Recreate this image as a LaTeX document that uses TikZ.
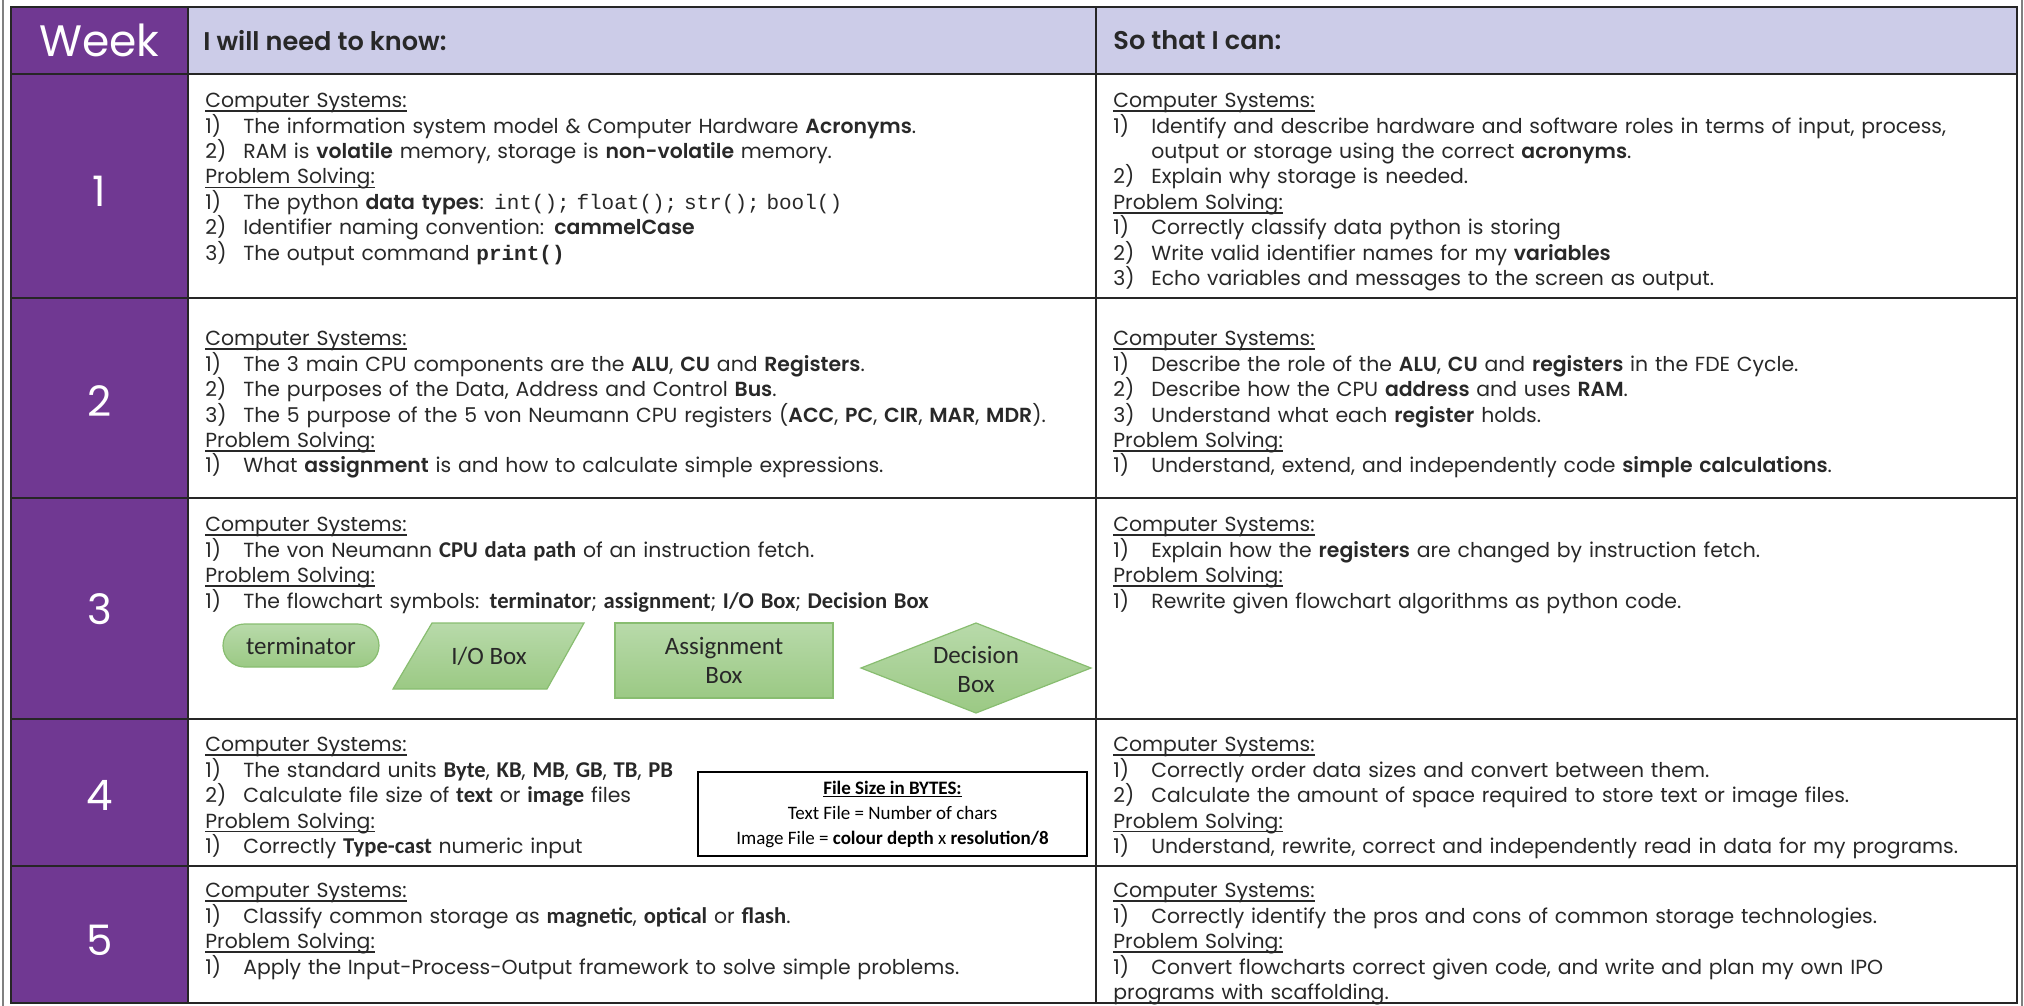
\documentclass[tikz,border=0pt]{standalone}
\usepackage{amsmath}
\usepackage{fontspec}
\setmainfont{Poppins}[BoldFont={Poppins SemiBold}]
\setmonofont{Liberation Mono}
\newfontfamily\calfont{Carlito}
\usetikzlibrary{shapes.geometric,shapes.misc}
\setlength\parskip{0pt}

\definecolor{wkpurple}{RGB}{112,56,146}
\definecolor{hdlav}{RGB}{204,204,232}
\definecolor{gridline}{RGB}{38,38,38}
\definecolor{ink}{RGB}{40,40,40}
\definecolor{gtop}{RGB}{184,218,170}
\definecolor{gbot}{RGB}{155,201,132}
\definecolor{gedge}{RGB}{136,189,112}

% topic heading, item with hanging number, Calibri bold word, code
\newcommand\topic[1]{\par\noindent\setbox0\hbox{#1}\rlap{\rule[-2.2pt]{\wd0}{0.9pt}}\box0}
\newcommand\itm[2]{\par\noindent\hangindent=19pt\hangafter=1\makebox[19pt][l]{#1)}#2}
\newcommand\cb[1]{{\calfont\bfseries\fontsize{11.3}{12.7}\selectfont #1}}
\newcommand\code[1]{{\ttfamily\fontsize{10.5}{12.7}\selectfont #1}}

\begin{document}
\begin{tikzpicture}[x=0.5pt,y=-0.5pt,
  cell/.style={anchor=north west,inner sep=0pt,text width=460pt,align=left,text=ink,font=\fontsize{10.2}{12.7}\selectfont},
  wknum/.style={text=white,font=\fontsize{21}{24}\selectfont},
  hdtext/.style={anchor=west,inner sep=0pt,text=ink,font=\bfseries\fontsize{12.8}{15}\selectfont},
  flow/.style={top color=gtop,bottom color=gbot,draw=gedge,line width=0.6pt},
  flowtxt/.style={font=\calfont\fontsize{12.5}{14.5}\selectfont,text=ink,align=center,inner sep=0pt}]
\useasboundingbox (0,0) rectangle (2024,1006);
\fill[wkpurple](11,7) rectangle (188,1003);
\fill[hdlav](188,7) rectangle (2017,74);
\draw[gray,line width=0.6pt](3,0)--(3,1006)
(2022,0)--(2022,1006);
\draw[gridline,line width=1.3pt](11,7) rectangle (2017,1003);
\draw[gridline,line width=1.3pt](188,7)--(188,1003)
(1096,7)--(1096,1003);
\foreach \yy in {74,298,498,719,866}
  \draw[gridline,line width=1.3pt](11,\yy)--(2017,\yy);
%% header
\node[text=white,font=\fontsize{22}{26}\selectfont] (wk) at (99.5,40.5) {Week};
\node[hdtext] (know) at (203,40.5) {I will need to know:};
\node[hdtext] (can) at (1113,40.5) {So that I can:};
\foreach \n/\yy in {1/191,2/401,3/609,4/795,5/940}
  \node[wknum] (wk\n) at (99.5,\yy) {\n};
%% week 1
\node[cell] (k1) at (205,82) {\topic{Computer Systems:}
\itm{1}{The information system model \& Computer Hardware \textbf{Acronyms}.}
\itm{2}{RAM is \textbf{volatile} memory, storage is \textbf{non-volatile} memory.}
\topic{Problem Solving:}
\itm{1}{The python \textbf{data types}: \code{int(); float(); str(); bool()}}
\itm{2}{Identifier naming convention: \textbf{cammelCase}}
\itm{3}{The output command \code{\bfseries print()}}};
\node[cell] (c1) at (1113,82) {\topic{Computer Systems:}
\itm{1}{Identify and describe hardware and software roles in terms of input, process,\newline output or storage using the correct \textbf{acronyms}.}
\itm{2}{Explain why storage is needed.}
\topic{Problem Solving:}
\itm{1}{Correctly classify data python is storing}
\itm{2}{Write valid identifier names for my \textbf{variables}}
\itm{3}{Echo variables and messages to the screen as output.}};
%% week 2
\node[cell] (k2) at (205,320) {\topic{Computer Systems:}
\itm{1}{The 3 main CPU components are the \textbf{ALU}, \textbf{CU} and \textbf{Registers}.}
\itm{2}{The purposes of the Data, Address and Control \textbf{Bus}.}
\itm{3}{The 5 purpose of the 5 von Neumann CPU registers (\textbf{ACC}, \textbf{PC}, \textbf{CIR}, \textbf{MAR}, \textbf{MDR}).}
\topic{Problem Solving:}
\itm{1}{What \textbf{assignment} is and how to calculate simple expressions.}};
\node[cell] (c2) at (1113,320) {\topic{Computer Systems:}
\itm{1}{Describe the role of the \textbf{ALU}, \textbf{CU} and \textbf{registers} in the FDE Cycle.}
\itm{2}{Describe how the CPU \textbf{address} and uses \textbf{RAM}.}
\itm{3}{Understand what each \textbf{register} holds.}
\topic{Problem Solving:}
\itm{1}{Understand, extend, and independently code \textbf{simple calculations}.}};
%% week 3
\node[cell] (k3) at (205,506) {\topic{Computer Systems:}
\itm{1}{The von Neumann \cb{CPU data path} of an instruction fetch.}
\topic{Problem Solving:}
\itm{1}{The flowchart symbols: \cb{terminator}; \cb{assignment}; \cb{I/O Box}; \cb{Decision Box}}};
\node[cell] (c3) at (1113,506) {\topic{Computer Systems:}
\itm{1}{Explain how the \textbf{registers} are changed by instruction fetch.}
\topic{Problem Solving:}
\itm{1}{Rewrite given flowchart algorithms as python code.}};
\node[flow,flowtxt,rounded corners=10.75pt,minimum width=78pt,minimum height=21.5pt] (term) at (301,645.5) {terminator};
\path[flow](432,623)--(584,623)--(547,689)--(393,689)--cycle;
\node[flowtxt] (io) at (489,656) {I/O Box};
\node[flow,flowtxt,minimum width=109pt,minimum height=37.5pt] (assign) at (724,660.5) {Assignment\\Box};
\path[flow](861,668)--(976,623)--(1091,668)--(976,713)--cycle;
\node[flowtxt] (decide) at (976,669) {Decision\\Box};
%% week 4
\node[cell] (k4) at (205,726) {\topic{Computer Systems:}
\itm{1}{The standard units \cb{Byte}, \cb{KB}, \cb{MB}, \cb{GB}, \cb{TB}, \cb{PB}}
\itm{2}{Calculate file size of \cb{text} or \cb{image} files}
\topic{Problem Solving:}
\itm{1}{Correctly \cb{Type-cast} numeric input}};
\node[cell] (c4) at (1113,726) {\topic{Computer Systems:}
\itm{1}{Correctly order data sizes and convert between them.}
\itm{2}{Calculate the amount of space required to store text or image files.}
\topic{Problem Solving:}
\itm{1}{Understand, rewrite, correct and independently read in data for my programs.}};
\node[draw=black,fill=white,line width=1.1pt,minimum width=194.5pt,minimum height=42pt,inner sep=0pt,align=center,font=\calfont\fontsize{9.5}{12.5}\selectfont] (fsize) at (892.5,814) {\textbf{\underline{File Size in BYTES:}}\\Text File = Number of chars\\Image File = \textbf{colour depth} x \textbf{resolution/8}};
%% week 5
\node[cell] (k5) at (205,872) {\topic{Computer Systems:}
\itm{1}{Classify common storage as \cb{magnetic}, \cb{optical} or \cb{flash}.}
\topic{Problem Solving:}
\itm{1}{Apply the Input-Process-Output framework to solve simple problems.}};
\node[cell] (c5) at (1113,872) {\topic{Computer Systems:}
\itm{1}{Correctly identify the pros and cons of common storage technologies.}
\topic{Problem Solving:}
\itm{1}{Convert flowcharts correct given code, and write and plan my own IPO\newline programs with scaffolding.}};
\end{tikzpicture}
\end{document}
